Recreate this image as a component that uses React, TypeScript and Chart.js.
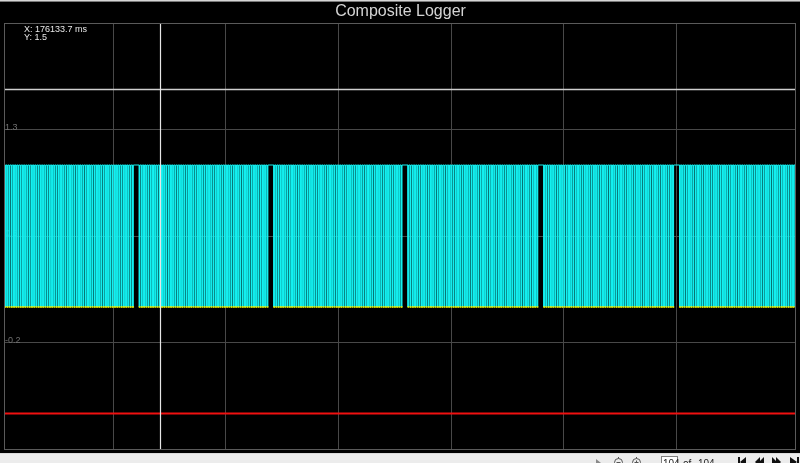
import React, { useEffect, useRef } from "react";
import { Chart, registerables } from "chart.js";

Chart.register(...registerables);

// ---------- data ----------
const TITLE = "Composite Logger";
const X_MIN = 176106.0; // ms at left edge of plot
const X_MAX = 176246.6; // ms at right edge of plot
const X_GRID = [176125.4, 176145.4, 176165.4, 176185.4, 176205.4, 176225.4];
const Y_MIN = -1;
const Y_MAX = 2;
const Y_GRID = [-0.25, 0.5, 1.25];
const Y_GRID_LABELS = ["-0.2", "0.5", "1.3"];

// primary trigger: 60-2 wheel, centres of the missing-tooth gaps (ms)
const GAP_CENTERS = [176129.49, 176153.38, 176177.19, 176201.3, 176225.41];
const TEETH_PER_REV = 60;
const MISSING_TEETH = 2;
const TOOTH_DIP_MS = 0.13;
const PRIMARY_HIGH = 1;
const PRIMARY_LOW = 0;
// secondary trigger (flat in this window)
const SECONDARY_LEVEL = -0.75;

// cursor
const CURSOR_X = 176133.7;
const CURSOR_Y = 1.535;
const READOUT = ["X: 176133.7 ms", "Y: 1.5"];
const PAGE_CURRENT = "104";
const PAGE_TOTAL = "104";

// ---------- building the trace ----------
function toothTimes(): number[] {
  const out: number[] = [];
  const half = (MISSING_TEETH + 1) / 2;
  const firstPitch = (GAP_CENTERS[1] - GAP_CENTERS[0]) / TEETH_PER_REV;
  const before: number[] = [];
  for (let t = GAP_CENTERS[0] - half * firstPitch; t >= X_MIN; t -= firstPitch) before.unshift(t);
  out.push(...before);
  for (let i = 0; i < GAP_CENTERS.length - 1; i++) {
    const p = (GAP_CENTERS[i + 1] - GAP_CENTERS[i]) / TEETH_PER_REV;
    for (let j = 0; j < TEETH_PER_REV - MISSING_TEETH; j++) out.push(GAP_CENTERS[i] + half * p + j * p);
  }
  const last = GAP_CENTERS[GAP_CENTERS.length - 1];
  const lastPitch = (last - GAP_CENTERS[GAP_CENTERS.length - 2]) / TEETH_PER_REV;
  for (let t = last + half * lastPitch; t <= X_MAX; t += lastPitch) out.push(t);
  return out;
}

function primaryPoints() {
  const pts: { x: number; y: number }[] = [{ x: X_MIN, y: PRIMARY_HIGH }];
  for (const t of toothTimes()) {
    const a = t - TOOTH_DIP_MS / 2;
    const b = t + TOOTH_DIP_MS / 2;
    pts.push({ x: a, y: PRIMARY_HIGH }, { x: a, y: PRIMARY_LOW }, { x: b, y: PRIMARY_LOW }, { x: b, y: PRIMARY_HIGH });
  }
  pts.push({ x: X_MAX, y: PRIMARY_HIGH });
  return pts;
}

const FONT = "'Liberation Sans', Arial, sans-serif";
const CYAN = "#14f2f2";
const YELLOW = "#f4f000";

const framePlugin = {
  id: "frame",
  beforeDraw(chart: any) {
    const { ctx, width, height } = chart;
    ctx.save();
    ctx.fillStyle = "#000";
    ctx.fillRect(0, 0, width, height);
    ctx.fillStyle = "#d6d6d6";
    ctx.fillRect(0, 0, width, 1);
    ctx.fillStyle = "#7a7a7a";
    ctx.fillRect(0, 1, width, 1);
    ctx.restore();
  },
  beforeDatasetsDraw(chart: any) {
    const { ctx, scales } = chart;
    ctx.save();
    ctx.font = `9px ${FONT}`;
    ctx.fillStyle = "#707070";
    ctx.textBaseline = "alphabetic";
    Y_GRID.forEach((v, i) => {
      const y = scales.y.getPixelForValue(v);
      ctx.fillText(Y_GRID_LABELS[i], 5, y);
    });
    ctx.restore();
  },
  afterDatasetsDraw(chart: any) {
    const { ctx, chartArea: a, scales } = chart;
    ctx.save();
    // cursor
    const cx = Math.round(scales.x.getPixelForValue(CURSOR_X)) + 0.5;
    const cy = Math.round(scales.y.getPixelForValue(CURSOR_Y)) + 0.5;
    ctx.strokeStyle = "#cfcfcf";
    ctx.lineWidth = 1.5;
    ctx.beginPath();
    ctx.moveTo(a.left, cy);
    ctx.lineTo(a.right, cy);
    ctx.stroke();
    ctx.strokeStyle = "#e6e6e6";
    ctx.lineWidth = 1.2;
    ctx.beginPath();
    ctx.moveTo(cx, a.top);
    ctx.lineTo(cx, a.bottom);
    ctx.stroke();
    // border
    ctx.strokeStyle = "#5a5a5a";
    ctx.lineWidth = 1;
    ctx.strokeRect(Math.round(a.left) + 0.5, Math.round(a.top) + 0.5, Math.round(a.right - a.left) - 1, Math.round(a.bottom - a.top));
    // readout
    ctx.font = `9px ${FONT}`;
    ctx.fillStyle = "#e8e8e8";
    ctx.textBaseline = "alphabetic";
    ctx.fillText(READOUT[0], 24, 32);
    ctx.fillText(READOUT[1], 24, 40);
    ctx.restore();
  },
  afterDraw(chart: any) {
    const { ctx, width } = chart;
    ctx.save();
    ctx.fillStyle = "#ececec";
    ctx.fillRect(0, 453, width, 10);
    ctx.fillStyle = "#dadada";
    ctx.fillRect(0, 453, width, 1);
    // play marker
    ctx.fillStyle = "#8a8a8a";
    ctx.beginPath();
    ctx.moveTo(596, 459);
    ctx.lineTo(601, 463);
    ctx.lineTo(596, 466);
    ctx.closePath();
    ctx.fill();
    // zoom out / in
    ctx.strokeStyle = "#555";
    ctx.lineWidth = 1;
    [618.5, 636.5].forEach((x, i) => {
      ctx.beginPath();
      ctx.arc(x, 462.5, 4, 0, Math.PI * 2);
      ctx.stroke();
      ctx.beginPath();
      ctx.moveTo(x - 2, 462.5);
      ctx.lineTo(x + 2, 462.5);
      if (i === 1) {
        ctx.moveTo(x, 460.5);
        ctx.lineTo(x, 464.5);
      }
      ctx.stroke();
      ctx.beginPath();
      ctx.moveTo(x, 458.5);
      ctx.lineTo(x, 457);
      ctx.stroke();
    });
    // page box
    ctx.fillStyle = "#fff";
    ctx.fillRect(661, 456, 17, 10);
    ctx.strokeStyle = "#808080";
    ctx.strokeRect(661.5, 456.5, 16, 10);
    ctx.font = `10px ${FONT}`;
    ctx.fillStyle = "#222";
    ctx.textBaseline = "alphabetic";
    ctx.fillText(PAGE_CURRENT, 663, 467);
    ctx.fillText("of", 683, 467);
    ctx.fillText(PAGE_TOTAL, 698, 467);
    // navigation
    ctx.fillStyle = "#111";
    const tri = (x0: number, x1: number) => {
      ctx.beginPath();
      ctx.moveTo(x0, 462);
      ctx.lineTo(x1, 457);
      ctx.lineTo(x1, 467);
      ctx.closePath();
      ctx.fill();
    };
    ctx.fillRect(738, 457, 2, 8);
    tri(740, 746);
    tri(755, 760);
    tri(759, 764);
    tri(777, 772);
    tri(781, 776);
    tri(797, 790);
    ctx.fillRect(797, 457, 2, 8);
    ctx.restore();
  },
};

export default function App() {
  const ref = useRef<HTMLCanvasElement | null>(null);
  useEffect(() => {
    if (!ref.current) return;
    const chart = new Chart(ref.current, {
      type: "line",
      data: {
        datasets: [
          {
            label: "Secondary",
            data: [
              { x: X_MIN, y: SECONDARY_LEVEL },
              { x: X_MAX, y: SECONDARY_LEVEL },
            ],
            borderColor: "#f01010",
            borderWidth: 2,
            pointRadius: 0,
          },
          {
            label: "Primary",
            data: primaryPoints(),
            borderColor: CYAN,
            borderWidth: 1,
            pointRadius: (c: any) =>
              c.dataIndex === 0 || (c.raw && c.raw.y === PRIMARY_LOW) ? 0.8 : 0,
            pointBackgroundColor: YELLOW,
            pointBorderWidth: 0,
            pointBorderColor: YELLOW,
            segment: {
              borderColor: (c: any) =>
                c.p0.parsed.y === PRIMARY_LOW && c.p1.parsed.y === PRIMARY_LOW ? YELLOW : CYAN,
            },
          },
        ],
      },
      options: {
        animation: false,
        responsive: false,
        events: [],
        layout: { padding: { left: 4, right: 3, top: 0, bottom: 14 } },
        plugins: {
          legend: { display: false },
          tooltip: { enabled: false },
          title: {
            display: true,
            text: TITLE,
            color: "#d4d4d4",
            font: { family: FONT, size: 16, weight: "normal" },
            padding: { top: 2.4, bottom: 1.4 },
          },
        },
        scales: {
          x: {
            type: "linear",
            min: X_MIN,
            max: X_MAX,
            ticks: { display: false },
            border: { display: false },
            grid: { color: "#484848", drawTicks: false, lineWidth: 1 },
            afterBuildTicks: (s: any) => {
              s.ticks = X_GRID.map((v) => ({ value: v }));
            },
          },
          y: {
            type: "linear",
            min: Y_MIN,
            max: Y_MAX,
            ticks: { display: false },
            border: { display: false },
            grid: { color: "#484848", drawTicks: false, lineWidth: 1 },
            afterBuildTicks: (s: any) => {
              s.ticks = Y_GRID.map((v) => ({ value: v }));
            },
          },
        },
      } as any,
      plugins: [framePlugin],
    });
    return () => chart.destroy();
  }, []);
  return (
    <div style={{ position: "fixed", left: 0, top: 0, width: 800, height: 463, background: "#000" }}>
      <canvas ref={ref} width={800} height={463} style={{ display: "block" }} />
    </div>
  );
}
